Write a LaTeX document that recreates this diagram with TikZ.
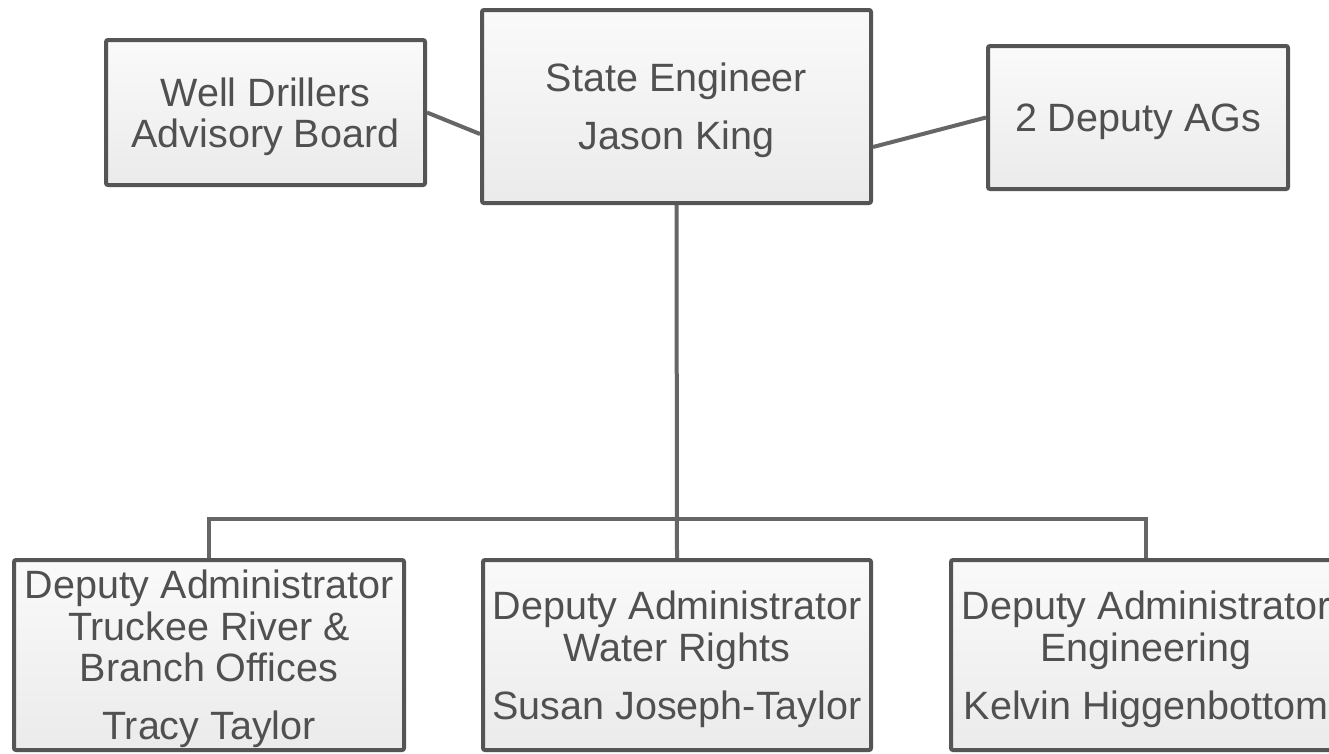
\documentclass[tikz,border=0pt]{standalone}
\usepackage{fontspec}
\setmainfont{Liberation Sans}
\usetikzlibrary{positioning}

\definecolor{boxline}{HTML}{555555}
\definecolor{linkline}{HTML}{666666}
\definecolor{boxtext}{HTML}{505050}

\begin{document}
\begin{tikzpicture}[x=1pt,y=-1pt,
		box/.style={draw=boxline,line width=4pt,rounded corners=2pt,
			top color=black!2,bottom color=black!8,text=boxtext,
			align=center,inner sep=0pt,text depth=0pt,
			font=\fontsize{39.5}{41.5}\selectfont},
		link/.style={draw=linkline,line width=4pt}]
	\useasboundingbox[fill=white] (0,0) rectangle (1329,753);
	\node[box,minimum width=319,minimum height=145] (wdab) at (265.5,112.5) {Well Drillers\\Advisory Board};
	\node[box,minimum width=389,minimum height=193] (se) at (676.5,106.5) {State Engineer\\[16.5pt]Jason King};
	\node[box,minimum width=300,minimum height=143] (ags) at (1138,117.5) {2 Deputy AGs};
	\node[box,minimum width=390,minimum height=190] (dtr) at (209,655) {Deputy Administrator\\Truckee River \&\\Branch Offices\\[16.5pt]Tracy Taylor};
	\node[box,minimum width=388,minimum height=190] (dwr) at (677,655) {Deputy Administrator\\Water Rights\\[16.5pt]Susan Joseph-Taylor};
	\node[box,minimum width=390,minimum height=190] (den) at (1146,655) {Deputy Administrator\\Engineering\\[16.5pt]Kelvin Higgenbottom};
	\coordinate (bus) at (677,519);
	\draw[link] (wdab.east) to ([yshift=-27.5pt]se.west);
	\draw[link] ([yshift=-40.5pt]se.east) to (ags.west);
	\draw[link] (se.south) to (dwr.north);
	\draw[link] (dtr.north) |- (bus) -| (den.north);
\end{tikzpicture}
\end{document}
